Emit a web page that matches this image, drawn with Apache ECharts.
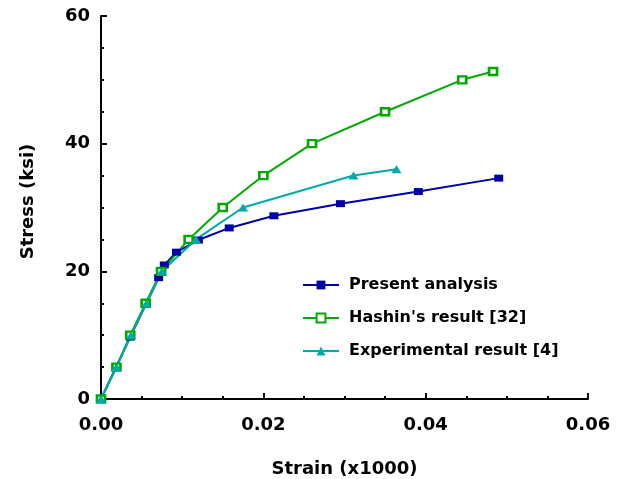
<!DOCTYPE html>
<html>
<head>
<meta charset="utf-8">
<script src="https://cdn.jsdelivr.net/npm/echarts@6/dist/echarts.min.js"></script>
<style>html,body{margin:0;padding:0;background:#fff}#c{width:627px;height:479px}</style>
</head>
<body>
<div id="c"></div>
<script>
// Data
var seriesNames = ["Present analysis", "Hashin's result [32]", "Experimental result [4]"];
var presentAnalysis = [[0,0],[0.0036,9.7],[0.0071,19.0],[0.0078,21.0],[0.0093,23.0],[0.0120,24.9],[0.0158,26.8],[0.0213,28.7],[0.0295,30.6],[0.0391,32.5],[0.0490,34.6]];
var hashinResult = [[0,0],[0.0019,5],[0.0036,10],[0.0055,15],[0.0074,20],[0.0108,25],[0.0150,30],[0.0200,35],[0.0260,40],[0.0350,45],[0.0445,50],[0.0483,51.3]];
var experimentalResult = [[0,0],[0.0019,5],[0.0037,10],[0.0056,15],[0.0075,20],[0.0117,25],[0.0175,30],[0.0311,35],[0.0364,36]];
var xTicks = [0, 0.02, 0.04, 0.06];
var yTicks = [0, 20, 40, 60];

var font = "DejaVu Sans";
var chart = echarts.init(document.getElementById('c'), null, {renderer: 'canvas'});
var axisCommon = {
  axisLine: {show: true, lineStyle: {color: '#000', width: 2}},
  axisTick: {show: true, inside: true, length: 6, lineStyle: {color: '#000', width: 2}},
  minorTick: {show: true, splitNumber: 4, length: 3, lineStyle: {color: '#000', width: 2}},
  splitLine: {show: false},
  axisLabel: {color: '#000', fontFamily: font, fontWeight: 'bold', fontSize: 18},
  nameTextStyle: {color: '#000', fontFamily: font, fontWeight: 'bold', fontSize: 18}
};
var option = {
  animation: false,
  backgroundColor: '#fff',
  grid: {left: 101, right: 39, top: 16, bottom: 80, containLabel: false, outerBoundsMode: 'none'},
  xAxis: Object.assign({}, axisCommon, {
    type: 'value', min: xTicks[0], max: xTicks[xTicks.length-1], interval: 0.02,
    name: 'Strain (x1000)', nameLocation: 'middle', nameGap: 61,
    axisLabel: Object.assign({}, axisCommon.axisLabel, {margin: 17, formatter: function(v){return v.toFixed(2);}})
  }),
  yAxis: Object.assign({}, axisCommon, {
    type: 'value', min: yTicks[0], max: yTicks[yTicks.length-1], interval: 20,
    name: 'Stress (ksi)', nameLocation: 'middle', nameGap: 64,
    nameTextStyle: Object.assign({}, axisCommon.nameTextStyle, {padding: [0, 0, 0, 12]}),
    axisLabel: Object.assign({}, axisCommon.axisLabel, {margin: 11})
  }),
  legend: {
    left: 297, top: 272, orient: 'vertical', itemWidth: 36, itemHeight: 11, itemGap: 17,
    textStyle: {color: '#000', fontFamily: font, fontWeight: 'bold', fontSize: 16, padding: [0,0,0,5]},
    data: seriesNames
  },
  series: [
    {name: seriesNames[0], type: 'line', data: presentAnalysis, symbol: 'rect', symbolSize: [9,7],
     lineStyle: {color: '#0000aa', width: 2}, itemStyle: {color: '#0000aa'}},
    {name: seriesNames[1], type: 'line', data: hashinResult, symbol: 'rect', symbolSize: [8,7],
     lineStyle: {color: '#00aa00', width: 2}, itemStyle: {color: '#fff', borderColor: '#00aa00', borderWidth: 2.5}},
    {name: seriesNames[2], type: 'line', data: experimentalResult, symbol: 'triangle', symbolSize: [10,8],
     lineStyle: {color: '#00aaaa', width: 2}, itemStyle: {color: '#00aaaa'}}
  ]
};
chart.setOption(option);
</script>
</body>
</html>
